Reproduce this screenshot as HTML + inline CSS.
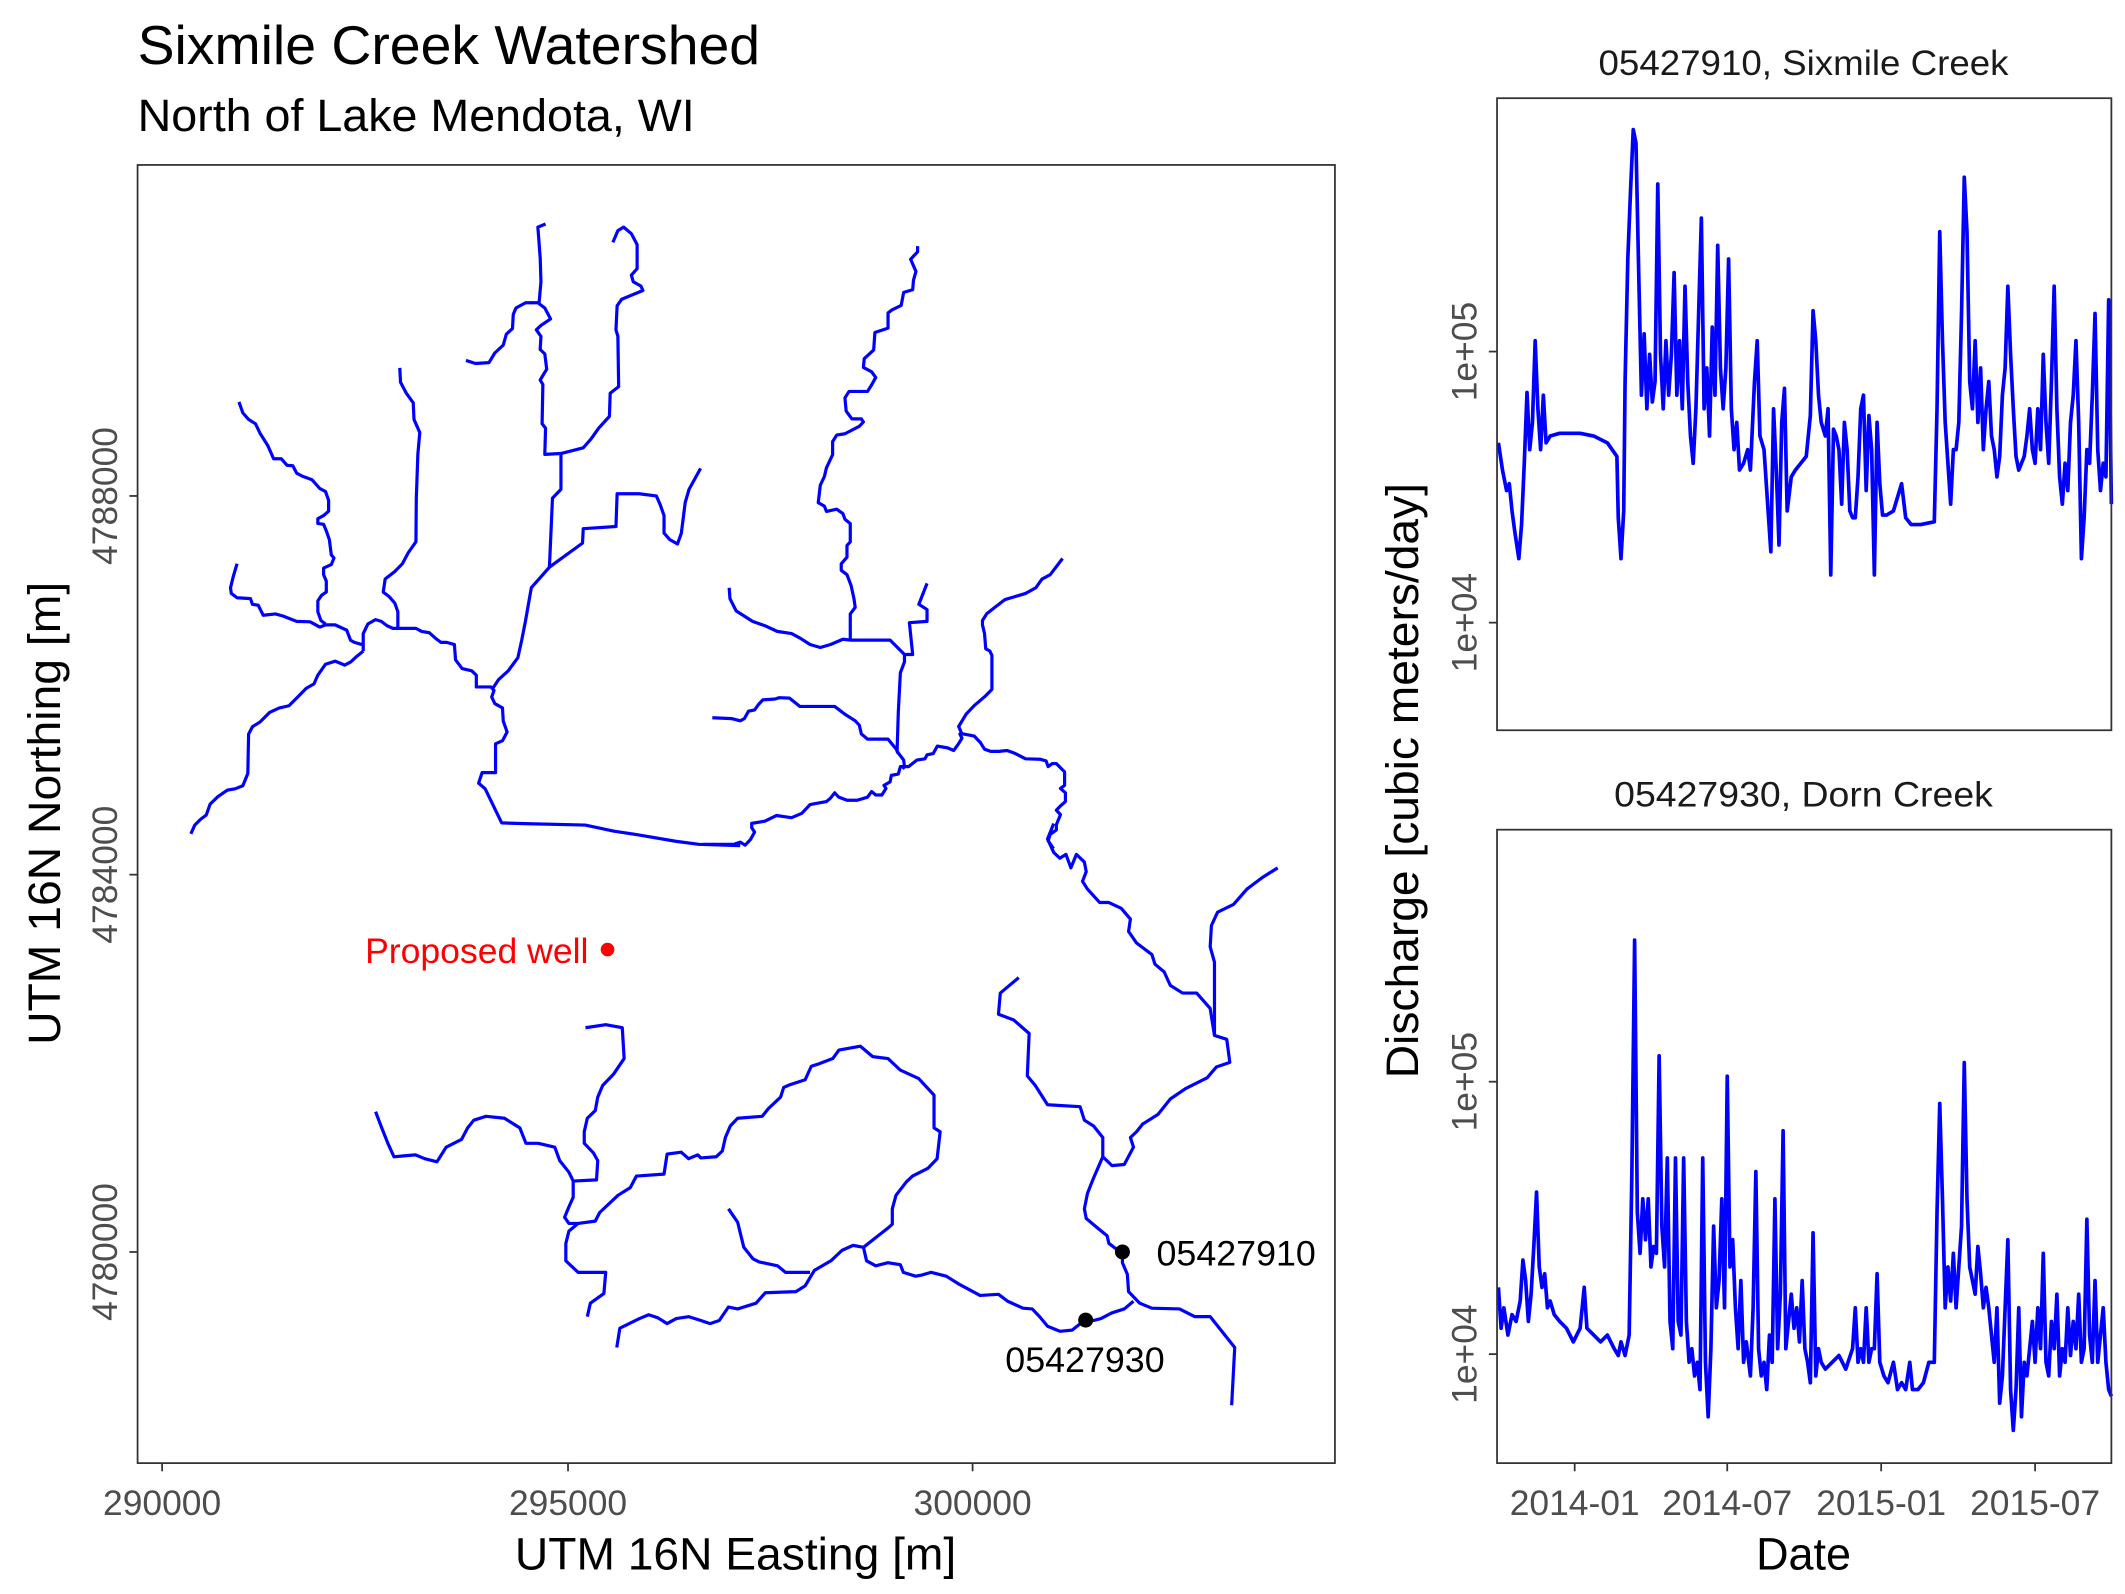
<!DOCTYPE html>
<html><head><meta charset="utf-8"><style>
html,body{margin:0;padding:0;background:#fff;}
svg{display:block;}
text{font-family:"Liberation Sans",Arial,sans-serif;}
.s{fill:none;stroke:#0000ff;stroke-width:3.2;stroke-linejoin:round;stroke-linecap:butt;}
.ts{fill:none;stroke:#0000ff;stroke-width:2.7;stroke-linejoin:round;}
.ax{fill:none;stroke:#333;stroke-width:1.3;}
.tk{stroke:#333;stroke-width:1.3;}
.tl{fill:#4d4d4d;font-size:26px;}
</style></head><body>
<svg width="2125" height="1594" viewBox="0 0 1560 1170" xmlns="http://www.w3.org/2000/svg">
<rect width="1560" height="1170" fill="#fff"/>
<text x="101" y="47" font-size="40" textLength="457" lengthAdjust="spacingAndGlyphs">Sixmile Creek Watershed</text>
<text x="101" y="96" font-size="33" textLength="409" lengthAdjust="spacingAndGlyphs">North of Lake Mendota, WI</text>

<!-- map streams -->
<g transform="translate(100.6,121.7) scale(0.2824,0.3209)">
<polyline vector-effect="non-scaling-stroke" class="s" points="140,1528 150,1508 165,1495 180,1485 190,1460 210,1443 235,1428 255,1425 275,1418 288,1390 290,1300 300,1283 320,1272 345,1250 370,1240 395,1235 420,1213 440,1195 460,1185 470,1165 490,1140 515,1133 540,1142 555,1135 570,1123 588,1110"/>
<polyline vector-effect="non-scaling-stroke" class="s" points="588,1110 588,1070 600,1048 620,1038 635,1042 650,1052 665,1058 680,1058 725,1058 740,1065 760,1068 775,1080 790,1090 805,1090 825,1095 828,1130 845,1150 870,1155 882,1165 882,1192 920,1192 928,1200 922,1215 930,1230 950,1240 952,1270 962,1295 950,1315 932,1322 932,1388 897,1388 888,1412 905,1425 948,1503 1020,1505 1165,1508 1240,1522 1300,1530 1400,1545 1460,1552 1568,1555"/>
<polyline vector-effect="non-scaling-stroke" class="s" points="265,540 275,565 290,580 308,590 320,612 340,640 355,670 375,670 390,685 405,686 415,703 430,710 455,718 475,738 490,745 498,765 498,790 485,800 470,807 470,818 485,820 492,835 500,855 505,890 512,897 505,912 485,920 485,935 492,950 492,975 480,982 470,995 470,1020 478,1040 490,1048"/>
<polyline vector-effect="non-scaling-stroke" class="s" points="260,910 250,940 243,965 245,978 260,988 295,990 300,1003 315,1005 328,1028 360,1025 380,1030 415,1042 450,1043 475,1055 490,1050 515,1050 545,1062 555,1085 565,1090 585,1095"/>
<polyline vector-effect="non-scaling-stroke" class="s" points="683,462 685,495 700,520 718,542 720,580 735,610 730,660 726,760 725,860 705,885 690,910 670,928 645,945 640,975 655,985 670,1000 678,1020 678,1058"/>
<polyline vector-effect="non-scaling-stroke" class="s" points="925,1195 940,1175 965,1155 990,1125 1000,1085 1010,1040 1020,990 1025,965 1050,940 1072,918 1080,760 1102,740 1102,658 1060,660 1062,600 1053,590 1055,500 1048,490 1058,475 1065,465 1060,430 1048,420 1050,390 1038,375 1050,365 1075,350 1060,325 1045,315 1050,265 1048,210 1042,140 1062,133"/>
<polyline vector-effect="non-scaling-stroke" class="s" points="1045,313 1010,313 985,325 978,340 976,372 960,385 952,410 930,428 915,450 880,452 855,445"/>
<polyline vector-effect="non-scaling-stroke" class="s" points="1102,658 1160,645 1180,625 1200,600 1228,573 1230,520 1252,505 1250,390 1245,375 1248,320 1260,305 1315,285 1310,275 1290,265 1285,250 1300,235 1300,180 1285,155 1265,140 1250,148 1237,175"/>
<polyline vector-effect="non-scaling-stroke" class="s" points="1072,918 1100,900 1158,863 1160,830 1245,825 1248,750 1305,750 1350,755 1360,775 1370,800 1370,840 1385,855 1405,865 1415,840 1425,770 1435,740 1465,692"/>
</g>
<g transform="translate(516.3,122.3) scale(0.3014,0.3203)">
<polyline vector-effect="non-scaling-stroke" class="s" points="522,182 522,195 505,212 518,240 512,260 510,282 488,288 482,318 460,328 450,335 450,370 418,380 415,420 392,440 390,460 410,470 420,483 410,500 400,515 355,515 345,530 348,560 362,578 385,578 390,585 380,595 345,612 325,615 315,630 315,660 300,690 295,710 285,730 280,770 295,778 300,790 325,785 340,795 345,808 358,818 358,860 350,868 350,895 336,910 336,925 350,935 360,960 367,990 370,1010 358,1025 358,1085"/>
<polyline vector-effect="non-scaling-stroke" class="s" points="63,965 65,990 80,1018 100,1030 120,1042 150,1052 180,1065 215,1070 235,1080 260,1095 285,1102 310,1095 340,1083 360,1085 455,1085 490,1118 510,1118 502,1045 545,1042 545,1015 525,1003 545,955"/>
<polyline vector-effect="non-scaling-stroke" class="s" points="490,1118 490,1135 480,1160 475,1250 472,1340 488,1360 490,1375 485,1380"/>
<polyline vector-effect="non-scaling-stroke" class="s" points="22,1263 70,1265 90,1270 100,1265 110,1248 125,1245 135,1232 145,1222 175,1220 185,1217 210,1218 235,1237 290,1237 320,1237 345,1255 370,1270 380,1280 385,1300 400,1312 450,1312 470,1335 475,1345"/>
<polyline vector-effect="non-scaling-stroke" class="s" points="0,1553 75,1553 90,1548 102,1555 115,1542 125,1525 118,1515 118,1505 150,1500 178,1487 200,1490 215,1492 240,1482 260,1462 300,1455 310,1447 320,1435 330,1445 350,1452 375,1452 400,1445 410,1432 420,1440 435,1440 445,1425 440,1418 455,1410 458,1395 475,1392 480,1375 500,1375 520,1360 540,1357 545,1348 560,1345 570,1328 595,1332 610,1338 620,1325 630,1310 625,1300 633,1300 660,1305 675,1320 685,1335 700,1340 720,1340 740,1338 760,1345 785,1357 820,1358 835,1362 840,1375 850,1368 860,1368 880,1387 880,1418 870,1425 882,1435 882,1455 870,1465 860,1475 870,1485 860,1508 860,1520 845,1530 840,1545 853,1563"/>
<polyline vector-effect="non-scaling-stroke" class="s" points="630,1300 622,1283 640,1255 660,1235 685,1215 703,1198 703,1120 698,1110 688,1105 685,1070 680,1050 680,1040 690,1025 710,1010 735,992 760,985 785,978 810,965 825,945 845,935 875,898"/>
</g>
<g transform="translate(244.2,604.5) scale(0.4505,0.2828)">
<polyline vector-effect="non-scaling-stroke" class="s" points="1175,0 1165,40 1175,75 1185,90 1195,80 1203,115 1212,80 1225,100 1228,125 1222,150 1230,170 1250,205 1265,205 1285,220 1300,248 1297,280 1310,310 1335,340 1340,365 1355,385 1365,420 1385,440 1408,440 1430,480 1437,550 1457,560 1462,620 1440,632 1425,660 1390,688 1365,715 1345,755 1320,780 1310,800 1300,815 1305,840 1295,870 1290,885 1270,888 1255,865 1240,920 1230,960 1225,1000 1228,1025 1245,1048 1262,1070 1265,1090 1280,1108 1287,1112 1287,1140 1295,1170 1297,1215 1315,1245 1335,1258 1380,1260 1405,1280 1430,1280 1470,1360 1468,1420 1465,1510"/>
<polyline vector-effect="non-scaling-stroke" class="s" points="1540,115 1515,140 1490,170 1468,210 1442,230 1432,265 1430,320 1437,360 1437,420 1437,510 1437,550"/>
<polyline vector-effect="non-scaling-stroke" class="s" points="1118,400 1088,440 1085,495 1110,510 1135,545 1132,655 1145,680 1165,730 1218,735 1225,770 1240,785 1255,815 1255,865"/>
<polyline vector-effect="non-scaling-stroke" class="s" points="1305,1240 1290,1260 1270,1270 1252,1285 1240,1290 1225,1290 1205,1315 1185,1318 1165,1305 1152,1280 1140,1260 1125,1258 1100,1240 1085,1222 1055,1225 1020,1195 1000,1175 975,1165 960,1172 950,1175 930,1165 925,1145 905,1140 885,1148 870,1135 865,1100 848,1095 830,1108 812,1135 785,1160 770,1200 755,1215 705,1218 690,1245 660,1260 645,1255 630,1290 615,1298 600,1290 580,1280 560,1285 545,1298 530,1283 515,1275 500,1285 468,1310 463,1360"/>
<polyline vector-effect="non-scaling-stroke" class="s" points="778,1165 738,1165 725,1148 695,1138 685,1130 670,1100 660,1035 645,1000"/>
<polyline vector-effect="non-scaling-stroke" class="s" points="865,1100 885,1075 905,1050 912,1040 912,1000 918,965 935,930 945,915 970,895 985,870 990,800 980,790 980,705 955,662 925,640 905,610 880,605 860,578 825,588 815,610 790,625 780,630 770,665 745,678 735,685 730,710 710,740 700,760 660,765 648,785 640,815 635,850 625,865 600,868 595,860 580,870 568,853 545,858 540,910 495,915 485,945 465,965 455,980 435,1010 428,1032 400,1038 385,1038 378,1022 385,995 392,970 392,928 430,925 432,875 425,855 410,830 410,800 415,765 428,745 432,710 440,680 458,650 475,610 472,530 445,522 412,530"/>
<polyline vector-effect="non-scaling-stroke" class="s" points="392,928 385,905 370,875 362,840 335,830 315,830 305,790 280,765 250,760 230,770 220,790 210,820 185,840 170,878 150,870 135,860 120,862 100,865 90,830 80,790 70,748"/>
<polyline vector-effect="non-scaling-stroke" class="s" points="400,1038 385,1058 380,1090 380,1135 400,1165 445,1165 442,1220 420,1245 415,1280"/>
</g>
<circle cx="446" cy="697" r="5" fill="#ff0000"/>
<text x="432" y="707" font-size="26" fill="#ff0000" text-anchor="end" textLength="164" lengthAdjust="spacingAndGlyphs">Proposed well</text>
<circle cx="824" cy="919" r="5.5" fill="#000"/>
<circle cx="797" cy="969" r="5.5" fill="#000"/>
<text x="849" y="929" font-size="26" textLength="117" lengthAdjust="spacingAndGlyphs">05427910</text>
<text x="738" y="1007" font-size="26" textLength="117" lengthAdjust="spacingAndGlyphs">05427930</text>

<rect x="101" y="121" width="879" height="953" class="ax"/>
<line class="tk" x1="119" y1="1074" x2="119" y2="1080"/>
<line class="tk" x1="417" y1="1074" x2="417" y2="1080"/>
<line class="tk" x1="714" y1="1074" x2="714" y2="1080"/>
<text class="tl" x="119" y="1112" text-anchor="middle">290000</text>
<text class="tl" x="417" y="1112" text-anchor="middle">295000</text>
<text class="tl" x="714" y="1112" text-anchor="middle">300000</text>
<line class="tk" x1="95" y1="364" x2="101" y2="364"/>
<line class="tk" x1="95" y1="642" x2="101" y2="642"/>
<line class="tk" x1="95" y1="919" x2="101" y2="919"/>
<text class="tl" transform="translate(86,364) rotate(-90)" text-anchor="middle">4788000</text>
<text class="tl" transform="translate(86,642) rotate(-90)" text-anchor="middle">4784000</text>
<text class="tl" transform="translate(86,919) rotate(-90)" text-anchor="middle">4780000</text>
<text x="540" y="1152" font-size="33" text-anchor="middle" textLength="324" lengthAdjust="spacingAndGlyphs">UTM 16N Easting [m]</text>
<text transform="translate(44,597) rotate(-90)" font-size="33" text-anchor="middle" textLength="340" lengthAdjust="spacingAndGlyphs">UTM 16N Northing [m]</text>

<!-- time series -->
<text x="1324" y="55" font-size="26" fill="#1a1a1a" text-anchor="middle" textLength="301" lengthAdjust="spacingAndGlyphs">05427910, Sixmile Creek</text>
<text x="1324" y="592" font-size="26" fill="#1a1a1a" text-anchor="middle" textLength="278" lengthAdjust="spacingAndGlyphs">05427930, Dorn Creek</text>
<polyline class="ts" points="1100,325 1103,345 1106,360 1108,355 1110,375 1112,390 1115,410 1117,385 1119,340 1121,288 1123,330 1125,310 1127,250 1129,300 1131,330 1133,290 1135,325 1138,320 1145,318 1160,318 1170,320 1180,325 1187,335 1188,380 1190,410 1192,375 1193,280 1195,190 1197,140 1199,95 1201,105 1203,200 1205,290 1207,245 1209,300 1211,260 1213,295 1215,280 1217,135 1219,260 1221,300 1223,250 1225,290 1227,260 1229,200 1231,290 1233,250 1235,300 1237,210 1239,280 1241,320 1243,340 1245,300 1247,230 1249,160 1251,300 1253,270 1255,320 1257,240 1259,290 1261,180 1263,270 1265,300 1267,270 1269,190 1271,300 1273,330 1275,310 1277,345 1280,340 1283,330 1285,345 1288,280 1290,250 1292,320 1295,330 1297,360 1300,405 1302,300 1304,345 1306,400 1308,310 1310,285 1312,375 1315,350 1318,345 1322,340 1326,335 1329,305 1331,228 1333,250 1335,290 1337,310 1340,320 1342,300 1344,422 1346,315 1348,320 1350,330 1352,370 1354,310 1356,330 1358,375 1360,380 1362,380 1364,350 1366,300 1368,290 1370,360 1372,305 1374,330 1376,422 1378,310 1380,355 1382,378 1385,378 1390,375 1393,365 1396,355 1399,380 1403,385 1410,385 1420,383 1422,300 1424,170 1426,250 1428,310 1430,340 1432,370 1434,330 1436,330 1438,310 1440,230 1442,130 1444,170 1446,280 1448,300 1450,250 1452,310 1454,270 1456,330 1458,300 1460,280 1462,320 1464,330 1466,350 1468,335 1470,290 1472,270 1474,210 1476,260 1478,300 1480,335 1482,345 1484,340 1486,335 1488,320 1490,300 1492,330 1494,340 1496,300 1498,330 1500,260 1502,310 1504,340 1506,280 1508,210 1510,300 1512,350 1514,370 1516,340 1518,360 1520,310 1522,290 1524,250 1526,310 1528,410 1530,380 1532,330 1534,340 1536,290 1538,230 1540,330 1542,360 1544,340 1546,350 1548,220 1550,370"/>
<polyline class="ts" points="1100,945 1102,975 1104,960 1107,980 1110,965 1113,970 1116,955 1118,925 1120,940 1122,970 1124,950 1126,915 1128,875 1130,930 1132,945 1134,935 1136,960 1138,955 1141,965 1145,970 1150,975 1155,985 1160,975 1163,945 1165,975 1170,980 1175,985 1180,980 1185,990 1188,995 1190,985 1193,995 1196,980 1198,860 1200,690 1202,890 1204,920 1206,880 1208,910 1210,880 1212,930 1214,915 1216,920 1218,775 1220,900 1222,930 1224,850 1226,970 1228,990 1230,850 1232,970 1234,980 1236,850 1238,970 1240,1000 1242,990 1244,1010 1246,1000 1248,1020 1250,850 1252,1000 1254,1040 1256,990 1258,900 1260,960 1262,940 1264,880 1266,960 1268,790 1270,930 1272,910 1274,960 1276,990 1278,940 1280,1000 1282,985 1285,1010 1287,960 1289,860 1291,990 1293,1010 1295,1000 1297,1020 1299,980 1301,1000 1303,880 1305,990 1307,950 1309,830 1311,990 1313,970 1315,950 1317,975 1319,960 1321,985 1323,940 1325,990 1327,1000 1329,1015 1331,905 1333,1010 1335,990 1337,1000 1340,1005 1345,1000 1350,995 1355,1005 1360,990 1362,960 1364,1000 1366,990 1368,1000 1370,960 1372,1000 1374,990 1376,990 1378,935 1380,1000 1383,1010 1386,1015 1390,1000 1393,1020 1396,1015 1399,1020 1402,1000 1404,1020 1408,1020 1412,1015 1416,1000 1420,1000 1422,890 1424,810 1426,880 1428,960 1430,930 1432,955 1434,920 1436,960 1438,930 1440,900 1442,780 1444,880 1446,930 1448,940 1450,950 1452,915 1454,935 1456,960 1458,945 1460,960 1462,980 1464,1000 1466,960 1468,1030 1470,1010 1472,960 1474,910 1476,1020 1478,1050 1480,1020 1482,960 1484,1040 1486,1000 1488,1010 1490,990 1492,970 1494,1000 1496,960 1498,990 1500,920 1502,1000 1504,1010 1506,970 1508,990 1510,950 1512,1010 1514,990 1516,1000 1518,960 1520,995 1522,970 1524,990 1526,950 1528,1000 1530,990 1532,895 1534,980 1536,1000 1538,940 1540,1000 1542,980 1544,960 1546,1000 1548,1020 1550,1025"/>
<rect x="1099" y="72" width="451" height="464" class="ax"/>
<rect x="1099" y="609" width="451" height="465" class="ax"/>
<line class="tk" x1="1093" y1="258" x2="1099" y2="258"/>
<line class="tk" x1="1093" y1="457" x2="1099" y2="457"/>
<line class="tk" x1="1093" y1="794" x2="1099" y2="794"/>
<line class="tk" x1="1093" y1="994" x2="1099" y2="994"/>
<text class="tl" transform="translate(1084,258) rotate(-90)" text-anchor="middle">1e+05</text>
<text class="tl" transform="translate(1084,457) rotate(-90)" text-anchor="middle">1e+04</text>
<text class="tl" transform="translate(1084,794) rotate(-90)" text-anchor="middle">1e+05</text>
<text class="tl" transform="translate(1084,994) rotate(-90)" text-anchor="middle">1e+04</text>
<line class="tk" x1="1156" y1="1074" x2="1156" y2="1080"/>
<line class="tk" x1="1268" y1="1074" x2="1268" y2="1080"/>
<line class="tk" x1="1381" y1="1074" x2="1381" y2="1080"/>
<line class="tk" x1="1494" y1="1074" x2="1494" y2="1080"/>
<text class="tl" x="1156" y="1112" text-anchor="middle">2014-01</text>
<text class="tl" x="1268" y="1112" text-anchor="middle">2014-07</text>
<text class="tl" x="1381" y="1112" text-anchor="middle">2015-01</text>
<text class="tl" x="1494" y="1112" text-anchor="middle">2015-07</text>
<text x="1324" y="1152" font-size="33" text-anchor="middle">Date</text>
<text transform="translate(1041,573) rotate(-90)" font-size="33" text-anchor="middle" textLength="437" lengthAdjust="spacingAndGlyphs">Discharge [cubic meters/day]</text>
</svg>
</body></html>
